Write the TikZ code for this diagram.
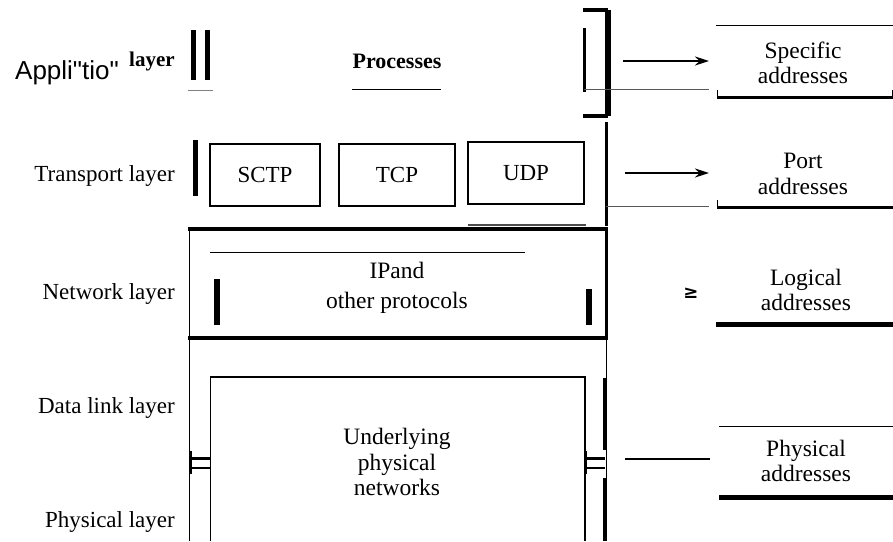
\documentclass[tikz,border=0pt]{standalone}
\usepackage{fontspec}
\setmainfont{Liberation Serif}
\newfontfamily\appsans{Liberation Sans}
\newfontfamily\symfont{DejaVu Sans}
\usetikzlibrary{arrows.meta}
\tikzset{
  lbl/.style={anchor=base east,font=\fontsize{23}{26}\selectfont},
  ctr/.style={align=center,font=\fontsize{23.5}{25.5}\selectfont,inner sep=0pt},
  proto/.style={draw,line width=1.3pt,minimum width=110pt,minimum height=62pt,font=\fontsize{23}{26}\selectfont},
  thick bar/.style={line width=5pt},
  heavy/.style={line width=4pt},
  thinline/.style={line width=0.9pt},
  arr/.style={line width=1.8pt,-{Stealth[length=14pt,width=9pt]}}
}
\begin{document}
\begin{tikzpicture}[x=1pt,y=-1pt]
\useasboundingbox (0,0) rectangle (893,541);
% ---- left labels
\node[anchor=base west,font=\appsans\fontsize{26}{28}\selectfont,inner sep=0pt] (app) at (15,79) {Appli"tio"};
\node[anchor=base west,font=\bfseries\fontsize{21}{24}\selectfont,inner sep=0pt] (appl) at (129,66) {layer};
\node[lbl,inner sep=0pt] (tl) at (175,181) {Transport layer};
\node[lbl,inner sep=0pt] (nl) at (175,299) {Network layer};
\node[lbl,inner sep=0pt] (dl) at (175,413) {Data link layer};
\node[lbl,inner sep=0pt] (pl) at (175,527) {Physical layer};
% ---- application layer
\draw[thick bar] (193,30) -- (193,80);
\draw[thick bar] (207,30) -- (207,80);
\draw[line width=1pt,gray] (188,90) -- (213,90);
\node[font=\bfseries\fontsize{22}{24}\selectfont,inner sep=0pt] (proc) at (397,61) {Processes};
\draw[thinline] (352,89) -- (441,89);
% bracket
\draw[line width=3pt] (584,28) -- (584,92);
\draw[line width=6pt] (608,10) -- (608,116);
\draw[heavy] (583,10) -- (608,10);
\draw[heavy] (583,116) -- (608,116);
\draw[line width=0.8pt,gray!70!black] (584,89.5) -- (709,89.5);
% ---- transport layer
\draw[thick bar] (195,140) -- (195,196);
\node[proto] (sctp) at (265,175) {SCTP};
\node[proto,minimum width=116pt] (tcp) at (397,175) {TCP};
\node[proto,minimum width=116pt] (udp) at (526,173) {UDP};
\draw[line width=3pt] (606,122) -- (606,226);
\draw[line width=0.8pt,gray!70!black] (606,206.5) -- (709,206.5);
\draw[line width=2pt,gray!60!black] (468,225) -- (586,225);
% ---- network layer
\draw[thinline] (189.5,229) -- (189.5,541);
\draw[heavy] (188,229) -- (608,229);
\draw[heavy] (188,338) -- (608,338);
\draw[line width=3pt] (606,227) -- (606,340);
\draw[line width=1pt] (210,252) -- (525,252);
\draw[line width=6pt] (217,279) -- (217,325);
\draw[line width=6pt] (589,289) -- (589,325);
\node[ctr,font=\fontsize{23.5}{30}\selectfont] (ip) at (397,288) {IPand\\other protocols};
% ---- lower region
\draw[line width=1pt] (606,338) -- (606,541);
\draw[line width=4pt] (605,378) -- (605,450);
\draw[line width=4pt] (605,478) -- (605,541);
\draw[line width=1.4pt] (210.5,541) -- (210.5,377) -- (585,377) -- (585,541);
\node[ctr] (und) at (397,462) {Underlying\\physical\\networks};
% connector stubs
\draw[line width=3pt] (191,458) -- (210,458);
\draw[line width=1.3pt] (191,468) -- (210,468);
\draw[line width=1.5pt] (191,451) -- (191,474);
\draw[line width=3pt] (586,458) -- (605,458);
\draw[line width=1.3pt] (586,468) -- (605,468);
\draw[line width=1.5pt] (586,451) -- (586,474);
% ---- address side
\coordinate (a1s) at (623,61);
\coordinate (a1e) at (709,61);
\draw[arr] (a1s) -- (a1e);
\coordinate (a2s) at (625,173);
\coordinate (a2e) at (709,173);
\draw[arr] (a2s) -- (a2e);
\node[font=\symfont\bfseries\fontsize{18}{18}\selectfont,inner sep=0pt] (ge) at (691,293) {≥};
\coordinate (a4s) at (625,459);
\coordinate (a4e) at (710,459);
\draw[line width=1.2pt] (a4s) -- (a4e);
% Specific
\draw[line width=1pt] (716,25) -- (893,25);
\node[ctr] (spec) at (803,63) {Specific\\addresses};
\draw[line width=3pt] (717,97) -- (893,97);
\draw[line width=1pt] (717,97) -- (717,90);
\draw[line width=1pt] (892,97) -- (892,90);
% Port
\node[ctr] (port) at (803,174) {Port\\addresses};
\draw[line width=3pt] (717,207) -- (893,207);
\draw[line width=1pt] (717,207) -- (717,200);
% Logical
\node[ctr] (log) at (806,290) {Logical\\addresses};
\draw[line width=5pt] (716,324) -- (893,324);
% Physical
\draw[line width=1pt] (719,426) -- (893,426);
\node[ctr] (phys) at (806,461) {Physical\\addresses};
\draw[line width=5pt] (719,497) -- (893,497);
\end{tikzpicture}
\end{document}
